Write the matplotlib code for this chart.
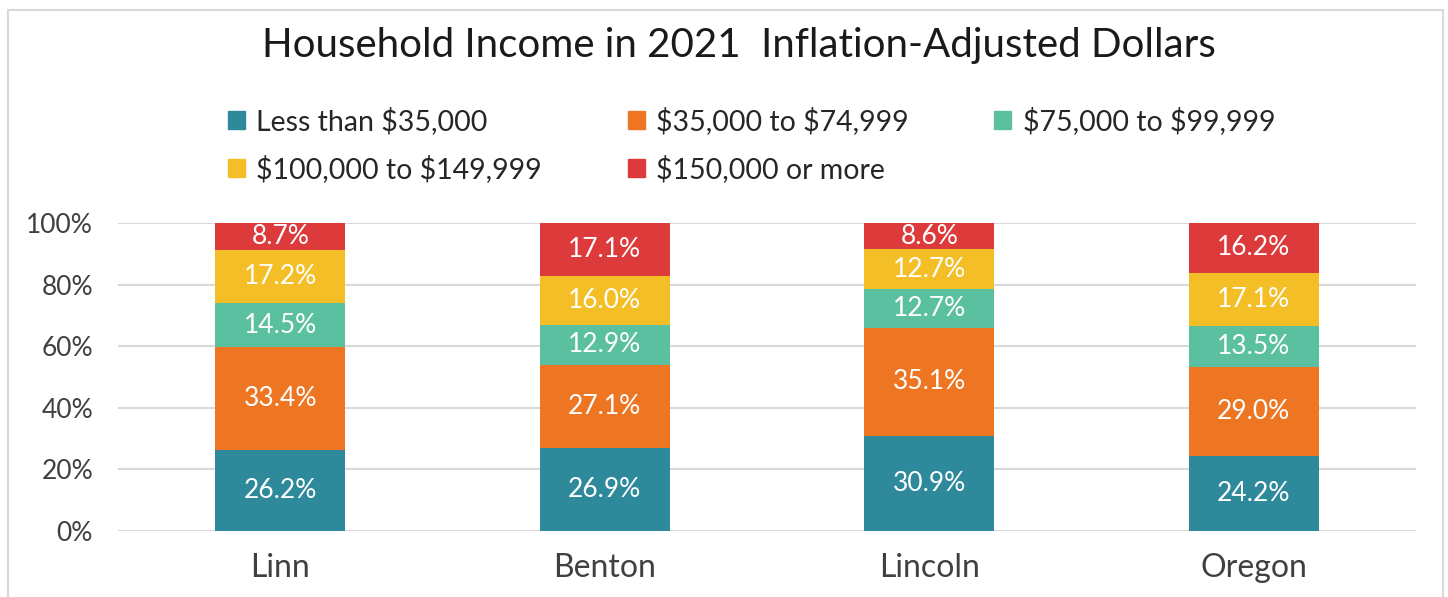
import numpy as np
import matplotlib
matplotlib.use("Agg")
import matplotlib.pyplot as plt
from matplotlib.patches import Patch, Rectangle

counties = ["Linn", "Benton", "Lincoln", "Oregon"]
brackets = ["Less than $35,000", "$35,000 to $74,999", "$75,000 to $99,999",
            "$100,000 to $149,999", "$150,000 or more"]
under_35k = [26.2, 26.9, 30.9, 24.2]
k35_75 = [33.4, 27.1, 35.1, 29.0]
k75_100 = [14.5, 12.9, 12.7, 13.5]
k100_150 = [17.2, 16.0, 12.7, 17.1]
over_150k = [8.7, 17.1, 8.6, 16.2]
colors = ["#2E8A9B", "#EE7623", "#5BC0A0", "#F3BE26", "#DC3A3B"]


def main():
    plt.rcParams['font.family'] = ['Lato', 'DejaVu Sans']
    plt.rcParams['text.parse_math'] = False
    fig = plt.figure(figsize=(14.48, 5.97), dpi=100)
    ax = fig.add_axes([0.0815, 0.1106, 0.8964, 0.5159])

    series = [under_35k, k35_75, k75_100, k100_150, over_150k]
    x = np.arange(len(counties))
    bottom = np.zeros(len(counties))
    for vals, col in zip(series, colors):
        vals = np.array(vals)
        ax.bar(x, vals, 0.4, bottom=bottom, color=col, zorder=3)
        for xi, b, v in zip(x, bottom, vals):
            ax.text(xi, b + v / 2, f"{v:.1f}%", ha='center', va='center',
                    color='white', fontsize=19, zorder=4)
        bottom += vals

    ax.set_xlim(-0.5, 3.5)
    ax.set_ylim(0, 100)
    ax.set_yticks(np.arange(0, 101, 20))
    ax.set_yticklabels([f"{t}%" for t in range(0, 101, 20)], fontsize=19,
                       color='#404040')
    ax.set_xticks(x)
    ax.set_xticklabels(counties, fontsize=23, color='#404040')
    ax.tick_params(length=0)
    ax.tick_params(axis='y', pad=18)
    ax.tick_params(axis='x', pad=16)
    ax.yaxis.grid(True, color='#D9D9D9', lw=1.5, zorder=0)
    for s in ax.spines.values():
        s.set_visible(False)

    # legend fills row by row in the reference
    order = [0, 3, 1, 4, 2]
    handles = [Patch(color=colors[i]) for i in order]
    labels = [brackets[i] for i in order]
    fig.legend(handles, labels, loc='center', bbox_to_anchor=(0.519, 0.757),
               ncol=3, frameon=False, fontsize=20.5, handlelength=0.6,
               handleheight=0.6, handletextpad=0.4, columnspacing=3.0,
               labelspacing=0.7, labelcolor='#262626')

    fig.text(0.51, 0.923, "Household Income in 2021  Inflation-Adjusted Dollars",
             ha='center', va='center', fontsize=29, color='#1a1a1a')

    # outer chart border
    fig.patches.append(Rectangle((8 / 1448, -0.05), (1443 - 8) / 1448, 1.05 - 10 / 597,
                                 transform=fig.transFigure, fill=False,
                                 edgecolor='#D9D9D9', lw=1.5))

    fig.savefig("out.png", dpi=100)


if __name__ == "__main__":
    main()
